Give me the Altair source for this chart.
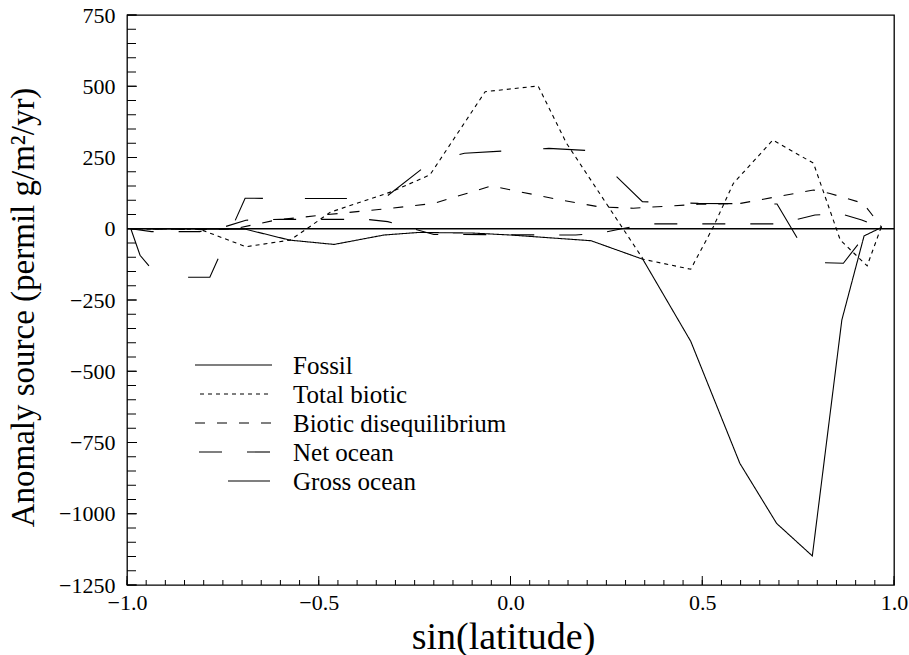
import altair as alt
import pandas as pd

# ---------------- data ----------------
names = ["Fossil", "Total biotic", "Biotic disequilibrium", "Net ocean", "Gross ocean"]

fossil_x = [-0.99, -0.69, -0.575, -0.46, -0.33, -0.24, -0.1, 0.0, 0.21, 0.345, 0.47, 0.598, 0.694, 0.787, 0.864, 0.922, 0.968]
fossil_y = [0, -2, -40, -55, -22, -13, -15, -22, -42, -107, -395, -823, -1034, -1148, -320, -25, 5]

total_x = [-0.99, -0.81, -0.69, -0.575, -0.53, -0.47, -0.31, -0.21, -0.066, 0.072, 0.146, 0.346, 0.47, 0.529, 0.581, 0.684, 0.79, 0.86, 0.93, 0.967]
total_y = [0, -2, -63, -40, 1, 58, 130, 189, 481, 501, 300, -107, -142, 7, 159, 311, 230, -40, -130, 7]

diseq_x = [-0.99, -0.8, -0.72, -0.61, -0.49, -0.31, -0.2, -0.05, 0.13, 0.23, 0.32, 0.49, 0.6, 0.79, 0.833, 0.92, 0.968]
diseq_y = [0, -3, 0, 31, 48, 72, 89, 150, 101, 77, 72, 86, 89, 136, 124, 89, 5]

net_x = [-0.99, -0.936, -0.81, -0.757, -0.69, -0.6, -0.375, -0.32, -0.2, 0.17, 0.24, 0.29, 0.36, 0.7, 0.794, 0.857, 0.916, 0.968]
net_y = [0, -10, -10, 2, 30, 33, 33, 25, -20, -22, -14, 0, 17, 17, 48, 54, 31, 3]

gross_x = [-0.99, -0.966, -0.94, -0.9, -0.85, -0.784, -0.692, -0.55, -0.33, -0.21, -0.12, 0.1, 0.207, 0.344, 0.49, 0.695, 0.785, 0.868, 0.925, 0.968]
gross_y = [0, -93, -135, -165, -170, -170, 107, 106, 106, 232, 265, 282, 274, 95, 89, 87, -118, -121, -22, 2]

x_labels = [-1.0, -0.5, 0.0, 0.5, 1.0]
x_minor = [round(-1 + 0.05 * i, 2) for i in range(41)]
y_labels = [-1250, -1000, -750, -500, -250, 0, 250, 500, 750]
y_minor = [-1250 + 50 * i for i in range(41)]
zero_line = [0]

# ---------------- style ----------------
dashes = [[1, 0], [4, 4], [10, 12], [23, 25], [42, 42]]
FONT = "Liberation Serif"
W, H = 767, 570

series = [(names[0], fossil_x, fossil_y), (names[1], total_x, total_y),
          (names[2], diseq_x, diseq_y), (names[3], net_x, net_y),
          (names[4], gross_x, gross_y)]
rows = []
for n, xs, ys in series:
    for a, b in zip(xs, ys):
        rows.append({"series": n, "lat": a, "val": b})
df = pd.DataFrame(rows)

xscale = alt.Scale(domain=[-1, 1], nice=False, zero=False)
yscale = alt.Scale(domain=[-1250, 750], nice=False, zero=False)

x_axis = alt.Axis(orient="bottom", values=x_labels, format=".1f", ticks=False,
                  tickSize=0, domain=False, grid=False, labelFont=FONT,
                  labelFontSize=22, labelColor="black", labelPadding=7,
                  labelFlush=False,
                  title="sin(latitude)", titleFont=FONT, titleFontSize=38,
                  titleFontWeight="normal", titleColor="black",
                  titleX=376, titleY=63, titleBaseline="alphabetic",
                  titleAlign="center")
y_axis = alt.Axis(orient="left", values=y_labels, format="d", ticks=False,
                  tickSize=0, domain=False, grid=False, labelFont=FONT,
                  labelFontSize=22, labelColor="black", labelPadding=12,
                  labelFlush=False,
                  title="Anomaly source (permil g/m²/yr)", titleFont=FONT,
                  titleFontSize=33, titleFontWeight="normal", titleColor="black",
                  titleX=-94, titleY=292, titleAngle=270,
                  titleBaseline="alphabetic", titleAlign="center")

lines = alt.Chart(df).mark_line(color="black", strokeWidth=1.1).encode(
    x=alt.X("lat:Q", scale=xscale, axis=x_axis),
    y=alt.Y("val:Q", scale=yscale, axis=y_axis),
    strokeDash=alt.StrokeDash("series:N", scale=alt.Scale(domain=names, range=dashes), legend=None),
    detail="series:N",
)

zero = alt.Chart(pd.DataFrame({"val": zero_line})).mark_rule(color="black", strokeWidth=1.3).encode(
    y=alt.Y("val:Q", scale=yscale, axis=y_axis)
)


def xticks(vals, length):
    return alt.Chart(pd.DataFrame({"lat": vals})).mark_rule(color="black", strokeWidth=1).encode(
        x=alt.X("lat:Q", scale=xscale, axis=x_axis),
        y=alt.value(H), y2=alt.value(H - length))


def yticks(vals, length):
    return alt.Chart(pd.DataFrame({"val": vals})).mark_rule(color="black", strokeWidth=1).encode(
        y=alt.Y("val:Q", scale=yscale, axis=y_axis),
        x=alt.value(0), x2=alt.value(length))


tick_layers = [xticks(x_minor, 5), xticks(x_labels, 9), yticks(y_minor, 9), yticks(y_labels, 10)]

# ---------------- legend (drawn inside the plot) ----------------
leg_start = [68, 73, 68, 72, 101]
leg_end, leg_text_x, leg_y0, leg_dy = 145, 166, 350, 29
legend_layers = []
for i, n in enumerate(names):
    yy = leg_y0 + i * leg_dy
    d = pd.DataFrame({"name": [n]})
    legend_layers.append(
        alt.Chart(d).mark_rule(color="black", strokeWidth=1.1, strokeDash=dashes[i]).encode(
            x=alt.value(leg_start[i]), x2=alt.value(leg_end), y=alt.value(yy))
    )
    legend_layers.append(
        alt.Chart(d).mark_text(align="left", baseline="alphabetic", font=FONT, fontSize=25,
                               color="black", dy=9).encode(
            x=alt.value(leg_text_x), y=alt.value(yy), text=alt.Text("name:N"))
    )

chart = alt.layer(lines, zero, *tick_layers, *legend_layers).properties(
    width=W, height=H,
    padding={"left": 127, "top": 15, "right": 15, "bottom": 70},
    autosize=alt.AutoSizeParams(type="none"),
    background="white",
).configure_view(stroke="black", strokeWidth=1.3)

chart.save("out.html", embed_options={"renderer": "svg", "actions": False})
